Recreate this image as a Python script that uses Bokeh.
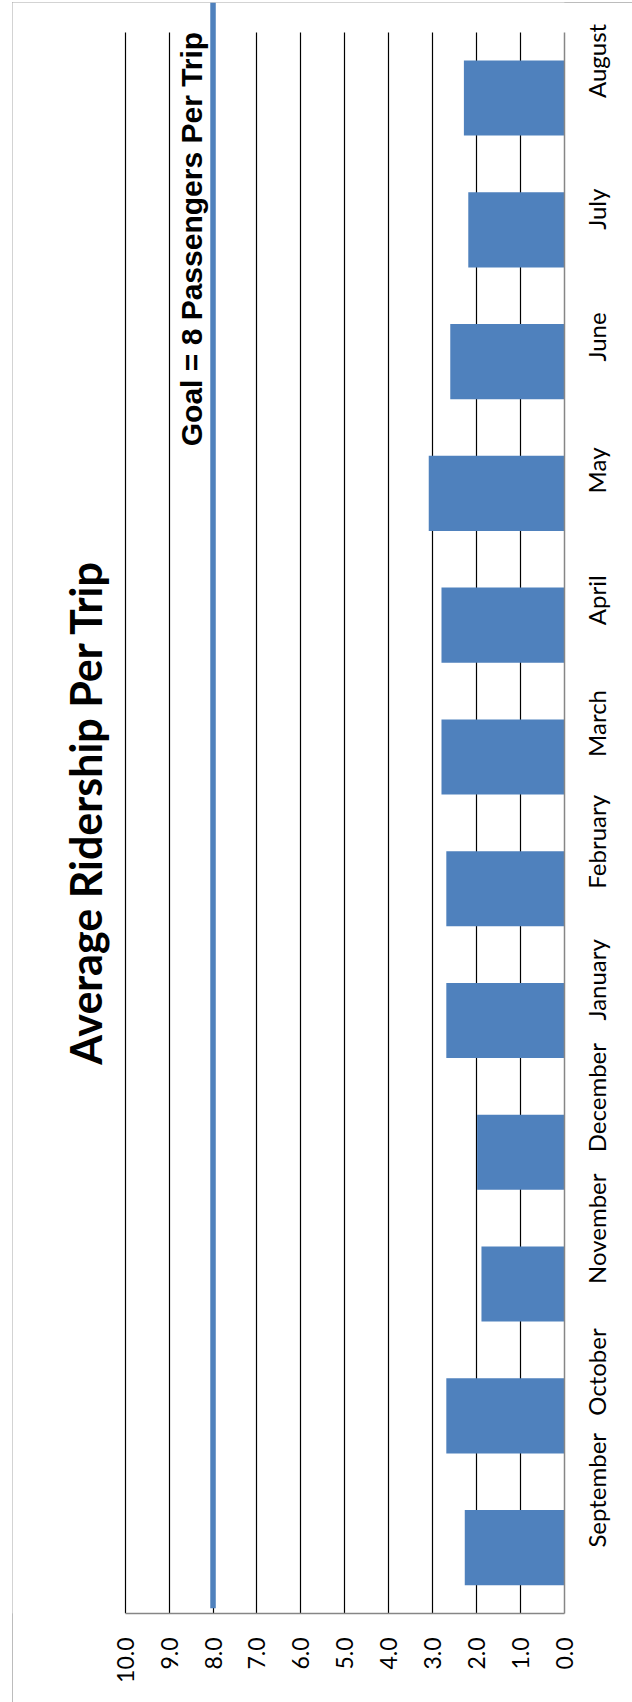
from math import pi
from bokeh.plotting import figure
from bokeh.models import Range1d, FixedTicker, PrintfTickFormatter, Label
from bokeh.embed import file_html
from bokeh.resources import INLINE

# ---- data ----
months = ["September", "October", "November", "December", "January", "February",
          "March", "April", "May", "June", "July", "August"]
ridership = [2.27, 2.69, 1.89, 1.99, 2.69, 2.69, 2.80, 2.80, 3.09, 2.60, 2.19, 2.29]
goal = 8.0
value_ticks = [0, 1, 2, 3, 4, 5, 6, 7, 8, 9, 10]
title_text = "Average Ridership Per Trip"
goal_text = "Goal = 8 Passengers Per Trip"

BLUE = "#4F81BD"
ypos = list(range(len(months)))
y_lo = -0.5
y_hi = len(months) - 0.5
y_top = y_hi + 0.225
x_lo = min(value_ticks)
x_hi = max(value_ticks)
x_left = x_hi + 2.564   # room on the left for the title, inside the frame

p = figure(width=620, height=1700, title=None,
           x_range=Range1d(x_left, x_lo),
           y_range=Range1d(y_lo, y_top),
           x_axis_location="below", y_axis_location="right",
           output_backend="svg", toolbar_location=None,
           min_border_left=0, min_border_right=68,
           min_border_top=0, min_border_bottom=89)
p.margin = (2, 0, 0, 12)
p.styles = {"outline": "1px solid #a6a6a6", "outline-offset": "-1px"}
p.outline_line_color = None
p.background_fill_color = "white"
p.border_fill_color = "white"

# grid
p.ygrid.visible = False
g = p.xgrid[0]
g.ticker = FixedTicker(ticks=value_ticks)
g.grid_line_color = "black"
g.grid_line_width = 1.2
if hasattr(g, "cross_bounds"):
    g.cross_bounds = (y_lo, y_hi)
else:
    p.quad(left=x_lo, right=x_hi, bottom=y_hi, top=y_top,
           fill_color="white", line_color=None)

# bars
p.hbar(y=ypos, left=0, right=ridership, height=0.57,
       fill_color=BLUE, line_color=None)

# goal line
p.segment(x0=[goal], x1=[goal], y0=[y_lo + 0.04], y1=[y_top],
          line_color=BLUE, line_width=5.5, line_cap="butt")

# x axis (values)
xa = p.xaxis[0]
xa.ticker = FixedTicker(ticks=value_ticks)
xa.formatter = PrintfTickFormatter(format="%.1f")
xa.bounds = (x_lo, x_hi)
xa.major_label_orientation = pi / 2
xa.major_tick_out = 0
xa.major_tick_in = 0
xa.minor_tick_out = 0
xa.minor_tick_in = 0
xa.axis_line_color = "#868686"
xa.axis_line_width = 1.5
xa.major_label_standoff = 24
xa.major_label_text_font = "Lato"
xa.major_label_text_font_size = "23px"
xa.major_label_text_color = "black"

# y axis (months)
ya = p.yaxis[0]
ya.ticker = FixedTicker(ticks=ypos)
ya.major_label_overrides = {i: m for i, m in zip(ypos, months)}
ya.major_label_orientation = pi / 2
ya.major_tick_out = 0
ya.major_tick_in = 0
ya.minor_tick_out = 0
ya.minor_tick_in = 0
ya.axis_line_color = "#868686"
ya.axis_line_width = 1.5
ya.bounds = (y_lo, y_hi)
ya.major_label_standoff = 32
ya.major_label_text_font = "Lato"
ya.major_label_text_font_size = "24px"
ya.major_label_text_color = "black"

# title (rotated)
p.add_layout(Label(x=10.91, y=5.58, text=title_text, angle=pi / 2,
                   text_align="center", text_baseline="alphabetic",
                   text_font="Lato", text_font_style="bold",
                   text_font_size="43px", text_color="black"))

# goal annotation
p.add_layout(Label(x=8.49, y=9.93, text=goal_text, angle=pi / 2,
                   text_align="center", text_baseline="alphabetic",
                   text_font="Liberation Sans", text_font_style="bold",
                   text_font_size="30px", text_color="black"))

open("out.html", "w").write(file_html(p, INLINE))
